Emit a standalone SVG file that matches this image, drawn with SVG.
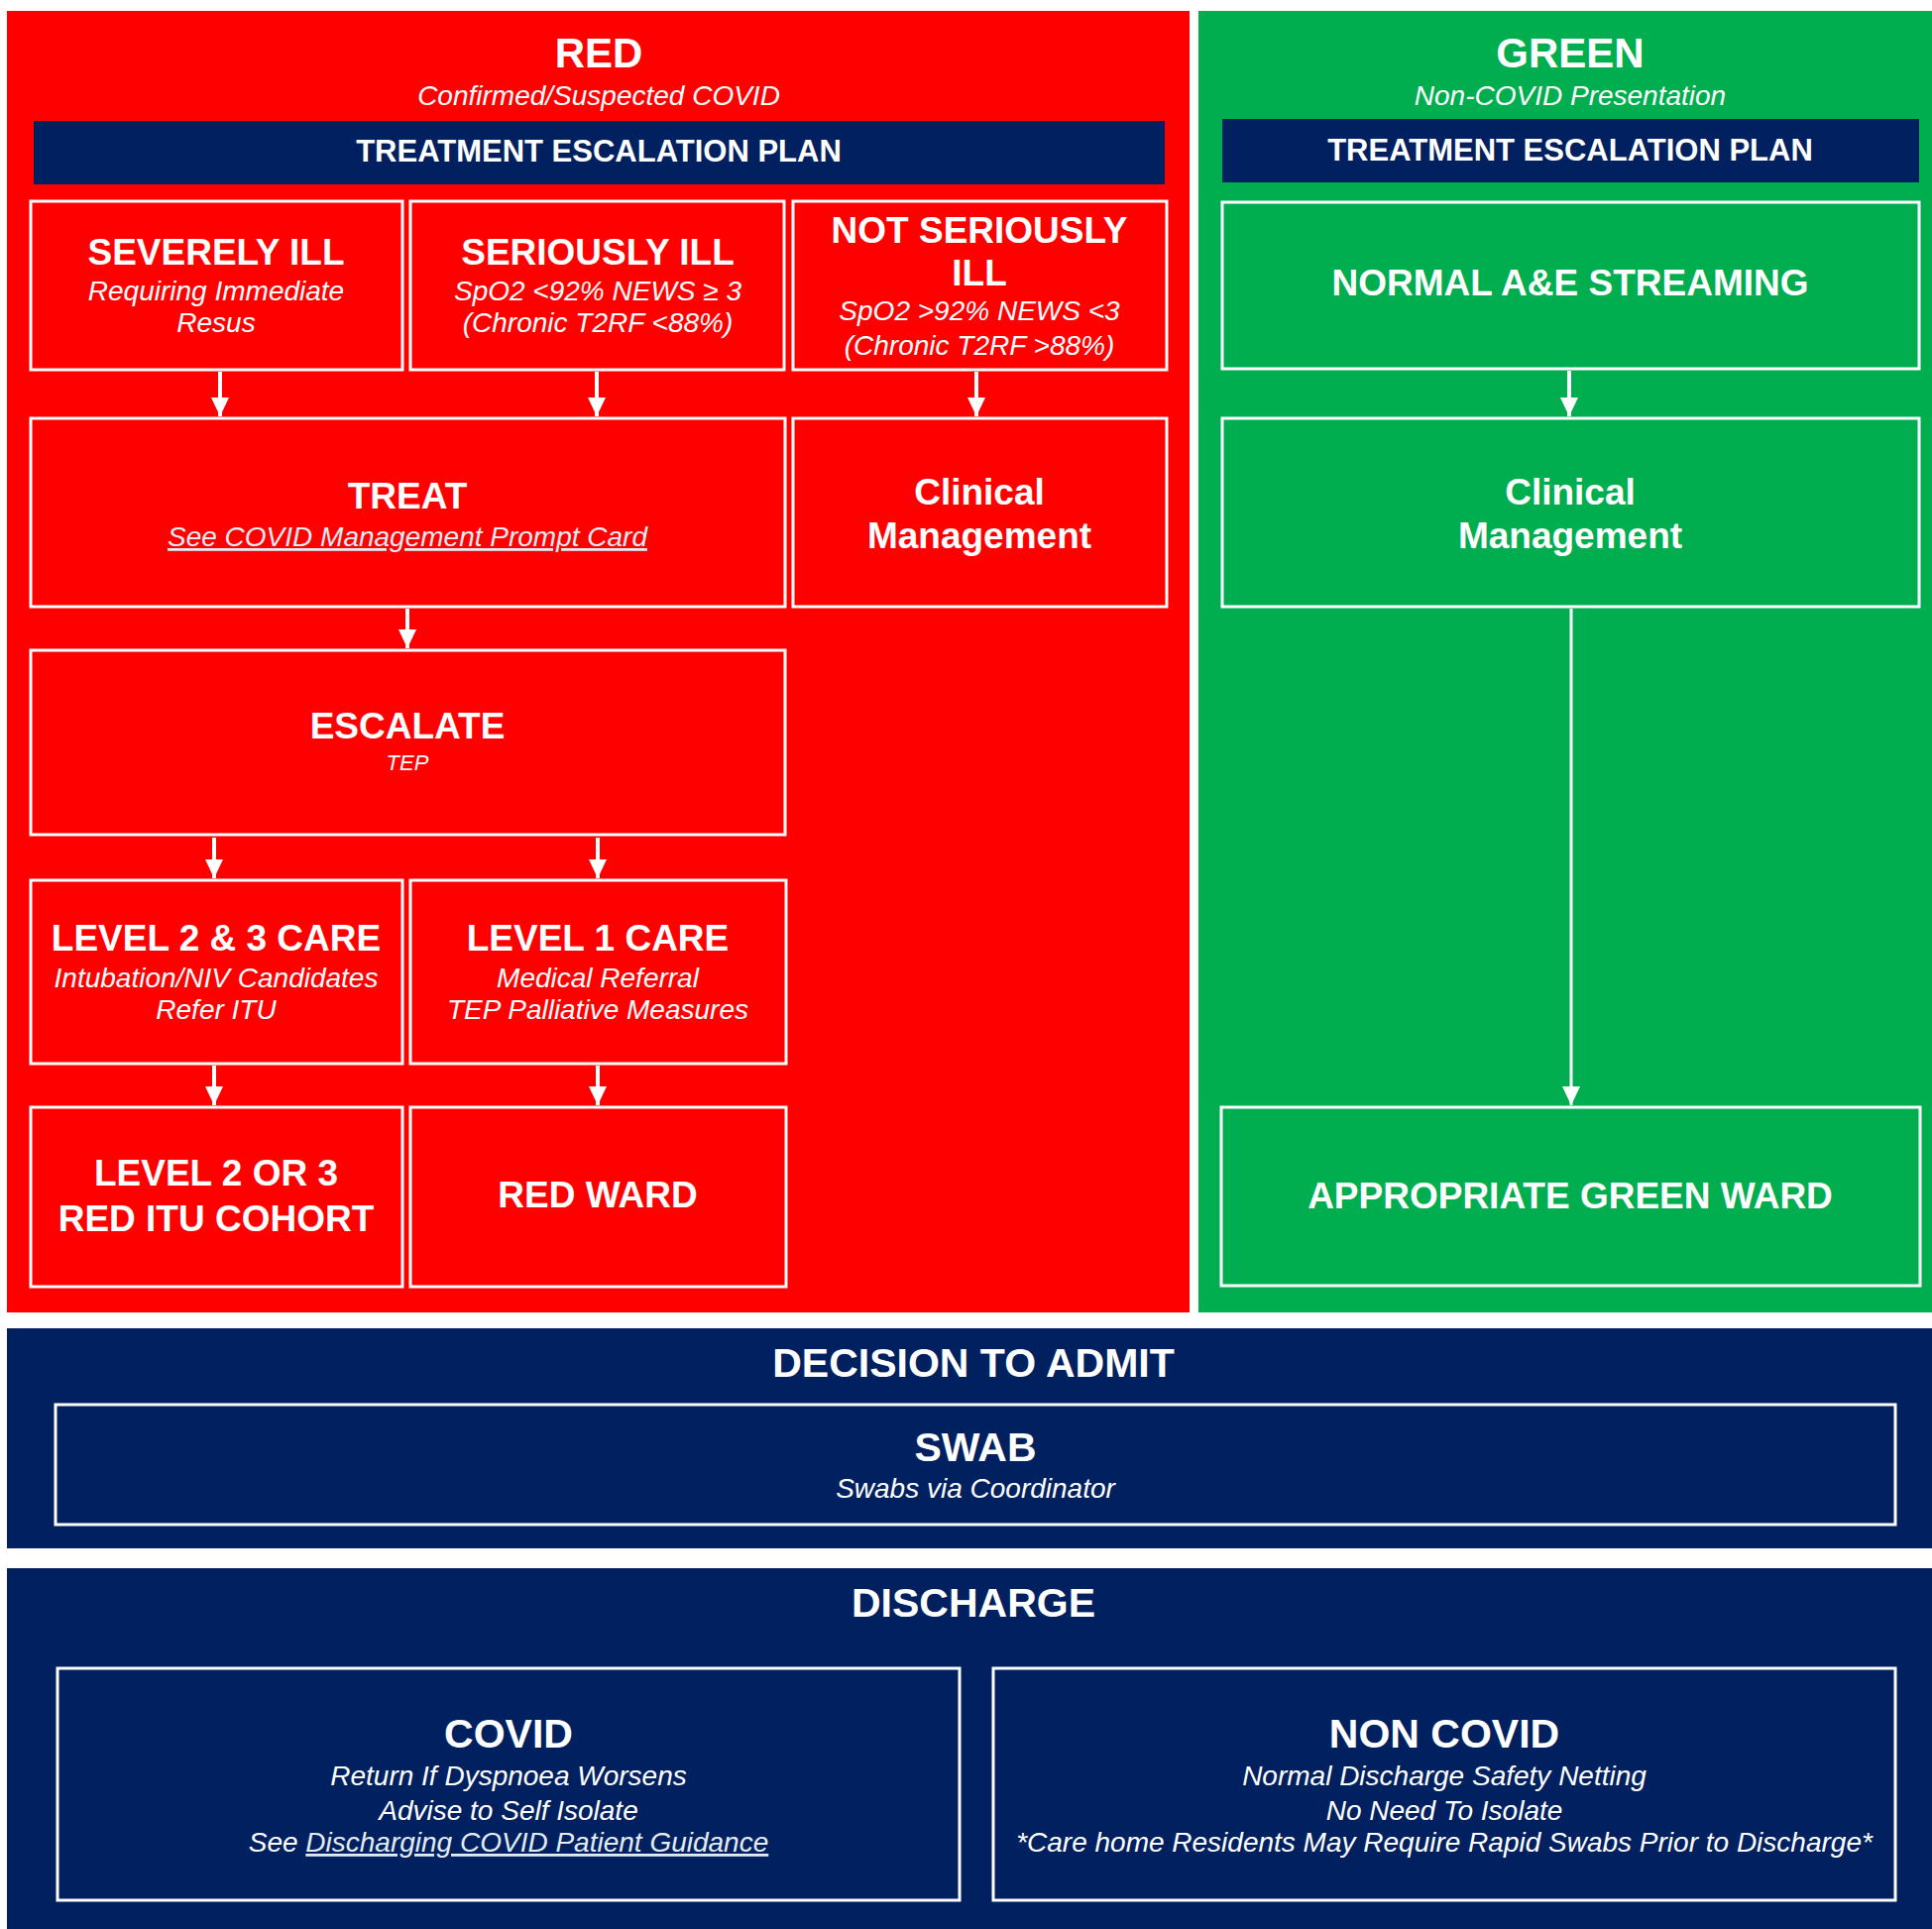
<svg xmlns="http://www.w3.org/2000/svg" width="1949" height="1946" viewBox="0 0 1949 1946">
<style>
text{font-family:"Liberation Sans",Arial,sans-serif;fill:#fff;text-anchor:middle}
.h1{font-size:42px;font-weight:bold}
.h2{font-size:37px;font-weight:bold}
.tep{font-size:31px;font-weight:bold}
.sub{font-size:28px;font-style:italic}
.small{font-size:22px;font-style:italic}
.big{font-size:41px;font-weight:bold}
.box{fill:none;stroke:#fff;stroke-width:3}
.link{fill:#e3ebf3;text-decoration:underline}
.conn line{stroke:#fff;stroke-width:4}
</style>
<defs>
<marker id="ah" markerUnits="userSpaceOnUse" markerWidth="20" markerHeight="20" refX="19" refY="10" orient="auto" viewBox="0 0 20 20">
<path d="M0,1 L19,10 L0,19 Z" fill="#fff"/>
</marker>
</defs>
<rect width="1949" height="1946" fill="#fff"/>
<g id="panel-red">
<rect x="7" y="11" width="1193" height="1313" fill="#ff0000"/>
<text class="h1" x="604" y="68">RED</text>
<text class="sub" x="604" y="106">Confirmed/Suspected COVID</text>
<rect x="34" y="122" width="1141" height="64" fill="#002060"/>
<text class="tep" x="604" y="163">TREATMENT ESCALATION PLAN</text>
</g>
<g id="panel-green">
<rect x="1209" y="11" width="740" height="1313" fill="#00ae4f"/>
<text class="h1" x="1584" y="68">GREEN</text>
<text class="sub" x="1584" y="106">Non-COVID Presentation</text>
<rect x="1233" y="120" width="703" height="64" fill="#002060"/>
<text class="tep" x="1584" y="162">TREATMENT ESCALATION PLAN</text>
</g>
<g id="panel-admit">
<rect x="7" y="1340" width="1942" height="222" fill="#002060"/>
<text class="big" x="982" y="1389">DECISION TO ADMIT</text>
</g>
<g id="panel-discharge">
<rect x="7" y="1582" width="1942" height="364" fill="#002060"/>
<text class="big" x="982" y="1631">DISCHARGE</text>
</g>
<g id="severely-ill">
<rect class="box" x="31" y="203" width="375" height="170"/>
<text class="h2" x="218" y="267">SEVERELY ILL</text>
<text class="sub" x="218" y="303">Requiring Immediate</text>
<text class="sub" x="218" y="335">Resus</text>
</g>
<g id="seriously-ill">
<rect class="box" x="414" y="203" width="377" height="170"/>
<text class="h2" x="603" y="267">SERIOUSLY ILL</text>
<text class="sub" x="603" y="303">SpO2 &lt;92% NEWS ≥ 3</text>
<text class="sub" x="603" y="335">(Chronic T2RF &lt;88%)</text>
</g>
<g id="not-seriously-ill">
<rect class="box" x="800" y="203" width="377" height="170"/>
<text class="h2" x="988" y="245">NOT SERIOUSLY</text>
<text class="h2" x="988" y="288">ILL</text>
<text class="sub" x="988" y="323">SpO2 &gt;92% NEWS &lt;3</text>
<text class="sub" x="988" y="358">(Chronic T2RF &gt;88%)</text>
</g>
<g id="normal-ae">
<rect class="box" x="1233" y="204" width="703" height="168"/>
<text class="h2" x="1584" y="298">NORMAL A&amp;E STREAMING</text>
</g>
<g id="treat">
<rect class="box" x="31" y="422" width="761" height="190"/>
<text class="h2" x="411" y="513">TREAT</text>
<text class="sub link" x="411" y="551">See COVID Management Prompt Card</text>
</g>
<g id="clinical-red">
<rect class="box" x="800" y="422" width="377" height="190"/>
<text class="h2" x="988" y="509">Clinical</text>
<text class="h2" x="988" y="553">Management</text>
</g>
<g id="clinical-green">
<rect class="box" x="1233" y="422" width="703" height="190"/>
<text class="h2" x="1584" y="509">Clinical</text>
<text class="h2" x="1584" y="553">Management</text>
</g>
<g id="escalate">
<rect class="box" x="31" y="656" width="761" height="186"/>
<text class="h2" x="411" y="745">ESCALATE</text>
<text class="small" x="411" y="777">TEP</text>
</g>
<g id="level23">
<rect class="box" x="31" y="888" width="375" height="185"/>
<text class="h2" x="218" y="959">LEVEL 2 &amp; 3 CARE</text>
<text class="sub" x="218" y="996">Intubation/NIV Candidates</text>
<text class="sub" x="218" y="1028">Refer ITU</text>
</g>
<g id="level1">
<rect class="box" x="414" y="888" width="379" height="185"/>
<text class="h2" x="603" y="959">LEVEL 1 CARE</text>
<text class="sub" x="603" y="996">Medical Referral</text>
<text class="sub" x="603" y="1028">TEP Palliative Measures</text>
</g>
<g id="itu-cohort">
<rect class="box" x="31" y="1117" width="375" height="181"/>
<text class="h2" x="218" y="1196">LEVEL 2 OR 3</text>
<text class="h2" x="218" y="1242">RED ITU COHORT</text>
</g>
<g id="red-ward">
<rect class="box" x="414" y="1117" width="379" height="181"/>
<text class="h2" x="603" y="1218">RED WARD</text>
</g>
<g id="green-ward">
<rect class="box" x="1232" y="1117" width="705" height="180"/>
<text class="h2" x="1584" y="1219">APPROPRIATE GREEN WARD</text>
</g>
<g id="swab">
<rect class="box" x="56" y="1417" width="1856" height="121"/>
<text class="big" x="984" y="1474">SWAB</text>
<text class="sub" x="984" y="1511">Swabs via Coordinator</text>
</g>
<g id="covid">
<rect class="box" x="58" y="1683" width="910" height="234"/>
<text class="big" x="513" y="1763">COVID</text>
<text class="sub" x="513" y="1801">Return If Dyspnoea Worsens</text>
<text class="sub" x="513" y="1836">Advise to Self Isolate</text>
<text class="sub" x="513" y="1868">See <tspan class="link">Discharging COVID Patient Guidance</tspan></text>
</g>
<g id="non-covid">
<rect class="box" x="1002" y="1683" width="910" height="234"/>
<text class="big" x="1457" y="1763">NON COVID</text>
<text class="sub" x="1457" y="1801">Normal Discharge Safety Netting</text>
<text class="sub" x="1457" y="1836">No Need To Isolate</text>
<text class="sub" x="1457" y="1868">*Care home Residents May Require Rapid Swabs Prior to Discharge*</text>
</g>
<g id="connectors" class="conn">
<line x1="222" y1="375" x2="222" y2="420" marker-end="url(#ah)"/>
<line x1="602" y1="375" x2="602" y2="420" marker-end="url(#ah)"/>
<line x1="985" y1="375" x2="985" y2="420" marker-end="url(#ah)"/>
<line x1="1583" y1="374" x2="1583" y2="420" marker-end="url(#ah)"/>
<line x1="411" y1="614" x2="411" y2="654" marker-end="url(#ah)"/>
<line x1="216" y1="845" x2="216" y2="886" marker-end="url(#ah)"/>
<line x1="603" y1="845" x2="603" y2="886" marker-end="url(#ah)"/>
<line x1="216" y1="1075" x2="216" y2="1115" marker-end="url(#ah)"/>
<line x1="603" y1="1075" x2="603" y2="1115" marker-end="url(#ah)"/>
<line x1="1585" y1="614" x2="1585" y2="1115" marker-end="url(#ah)" style="stroke-width:3"/>
</g>
</svg>
